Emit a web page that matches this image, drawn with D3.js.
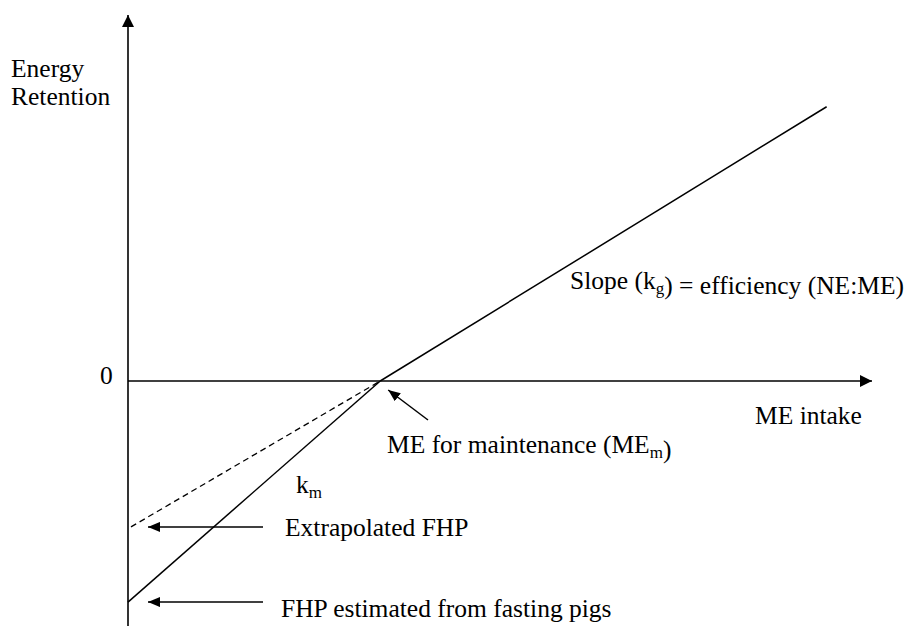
<!DOCTYPE html>
<html>
<head>
<meta charset="utf-8">
<script src="https://cdn.jsdelivr.net/npm/d3@7"></script>
<style>
  body { margin: 0; background: #fff; }
</style>
</head>
<body>
<div class="plot"></div>
<script>
const width = 904;
const height = 626;

// ME intake (x) and energy retention (y), arbitrary units
const meMaintenance = 33.9;
const fhpFasting = -90.6;
const fhpExtrapolated = -59.8;

// km segment: from fasting FHP up to ME for maintenance
const kmLine = [
    {x: 0, y: fhpFasting},
    {x: meMaintenance, y: 0},
]

// kg segment: above maintenance
const kgLine = [
    {x: meMaintenance, y: 0},
    {x: 93.9, y: 112.4},
]

// dashed back-extrapolation of the kg line
const extrapLine = [
    {x: 0.4, y: fhpExtrapolated},
    {x: meMaintenance, y: 0},
]

const xDomain = [0, 100];
const yDomain = [-100, 150];

const svg = d3.select('.plot')
    .append('svg')
    .attr('width', width)
    .attr('height', height)
    .attr('font-family', "'Liberation Serif', Tinos, 'Times New Roman', 'DejaVu Serif', serif")
    .attr('font-size', 25.5)

const x = d3.scaleLinear().domain(xDomain).range([128, 872])
const y = d3.scaleLinear().domain(yDomain).range([625, 15])

const defs = svg.append('defs')
defs.append('marker')
    .attr('id', 'head')
    .attr('viewBox', '0 0 12 12')
    .attr('refX', 12)
    .attr('refY', 6)
    .attr('markerWidth', 12)
    .attr('markerHeight', 12)
    .attr('markerUnits', 'userSpaceOnUse')
    .attr('orient', 'auto')
    .append('path')
    .attr('d', 'M0,0 L12,6 L0,12 Z')
    .attr('fill', '#000')

defs.append('marker')
    .attr('id', 'headSmall')
    .attr('viewBox', '0 0 12 10')
    .attr('refX', 12)
    .attr('refY', 5)
    .attr('markerWidth', 12)
    .attr('markerHeight', 10)
    .attr('markerUnits', 'userSpaceOnUse')
    .attr('orient', 'auto')
    .append('path')
    .attr('d', 'M0,0 L12,5 L0,10 Z')
    .attr('fill', '#000')

// axes
svg.append('line')
    .attr('x1', x(0)).attr('x2', x(0))
    .attr('y1', height).attr('y2', y(yDomain[1]))
    .attr('stroke', '#000').attr('stroke-width', 1.6)
    .attr('marker-end', 'url(#head)')

svg.append('line')
    .attr('x1', x(0)).attr('x2', x(xDomain[1]))
    .attr('y1', y(0)).attr('y2', y(0))
    .attr('stroke', '#000').attr('stroke-width', 1.6)
    .attr('marker-end', 'url(#head)')

const line = d3.line().x(d => x(d.x)).y(d => y(d.y))

svg.append('path')
    .datum(kmLine)
    .attr('d', line)
    .attr('fill', 'none').attr('stroke', '#000').attr('stroke-width', 1.5)

svg.append('path')
    .datum(kgLine)
    .attr('d', line)
    .attr('fill', 'none').attr('stroke', '#000').attr('stroke-width', 1.5)

svg.append('path')
    .datum(extrapLine)
    .attr('d', line)
    .attr('fill', 'none').attr('stroke', '#000').attr('stroke-width', 1.3)
    .attr('stroke-dasharray', '6,4')

// pointer arrows
const pointers = [
    {x1: 263, y1: y(fhpExtrapolated), x2: 148, y2: y(fhpExtrapolated)},
    {x1: 263, y1: y(fhpFasting), x2: 148, y2: y(fhpFasting)},
    {x1: 428, y1: 420, x2: x(meMaintenance) + 8, y2: y(0) + 9},
]

svg.selectAll()
    .data(pointers)
    .enter()
    .append('line')
    .attr('x1', d => d.x1).attr('y1', d => d.y1)
    .attr('x2', d => d.x2).attr('y2', d => d.y2)
    .attr('stroke', '#000').attr('stroke-width', 1.5)
    .attr('marker-end', 'url(#headSmall)')

// labels
const addText = (tx, ty, parts) => {
    const t = svg.append('text').attr('x', tx).attr('y', ty).attr('fill', '#000')
    parts.forEach(p => {
        if (p.sub) {
            t.append('tspan').attr('dy', 5).attr('font-size', 17).text(p.sub)
            t.append('tspan').attr('dy', -5).text('')
        } else {
            t.append('tspan').text(p.t)
        }
    })
    return t
}

addText(11, 77, [{t: 'Energy'}])
addText(11, 105, [{t: 'Retention'}])
addText(100, 384, [{t: '0'}])
addText(755, 424, [{t: 'ME intake'}])
addText(570, 289, [{t: 'Slope (k'}, {sub: 'g'}, {t: ') = efficiency (NE:ME)'}])
addText(387, 453, [{t: 'ME for maintenance (ME'}, {sub: 'm'}, {t: ')'}])
addText(296, 493, [{t: 'k'}, {sub: 'm'}])
addText(285, 536, [{t: 'Extrapolated FHP'}])
addText(281, 617, [{t: 'FHP estimated from fasting pigs'}])
</script>
</body>
</html>
